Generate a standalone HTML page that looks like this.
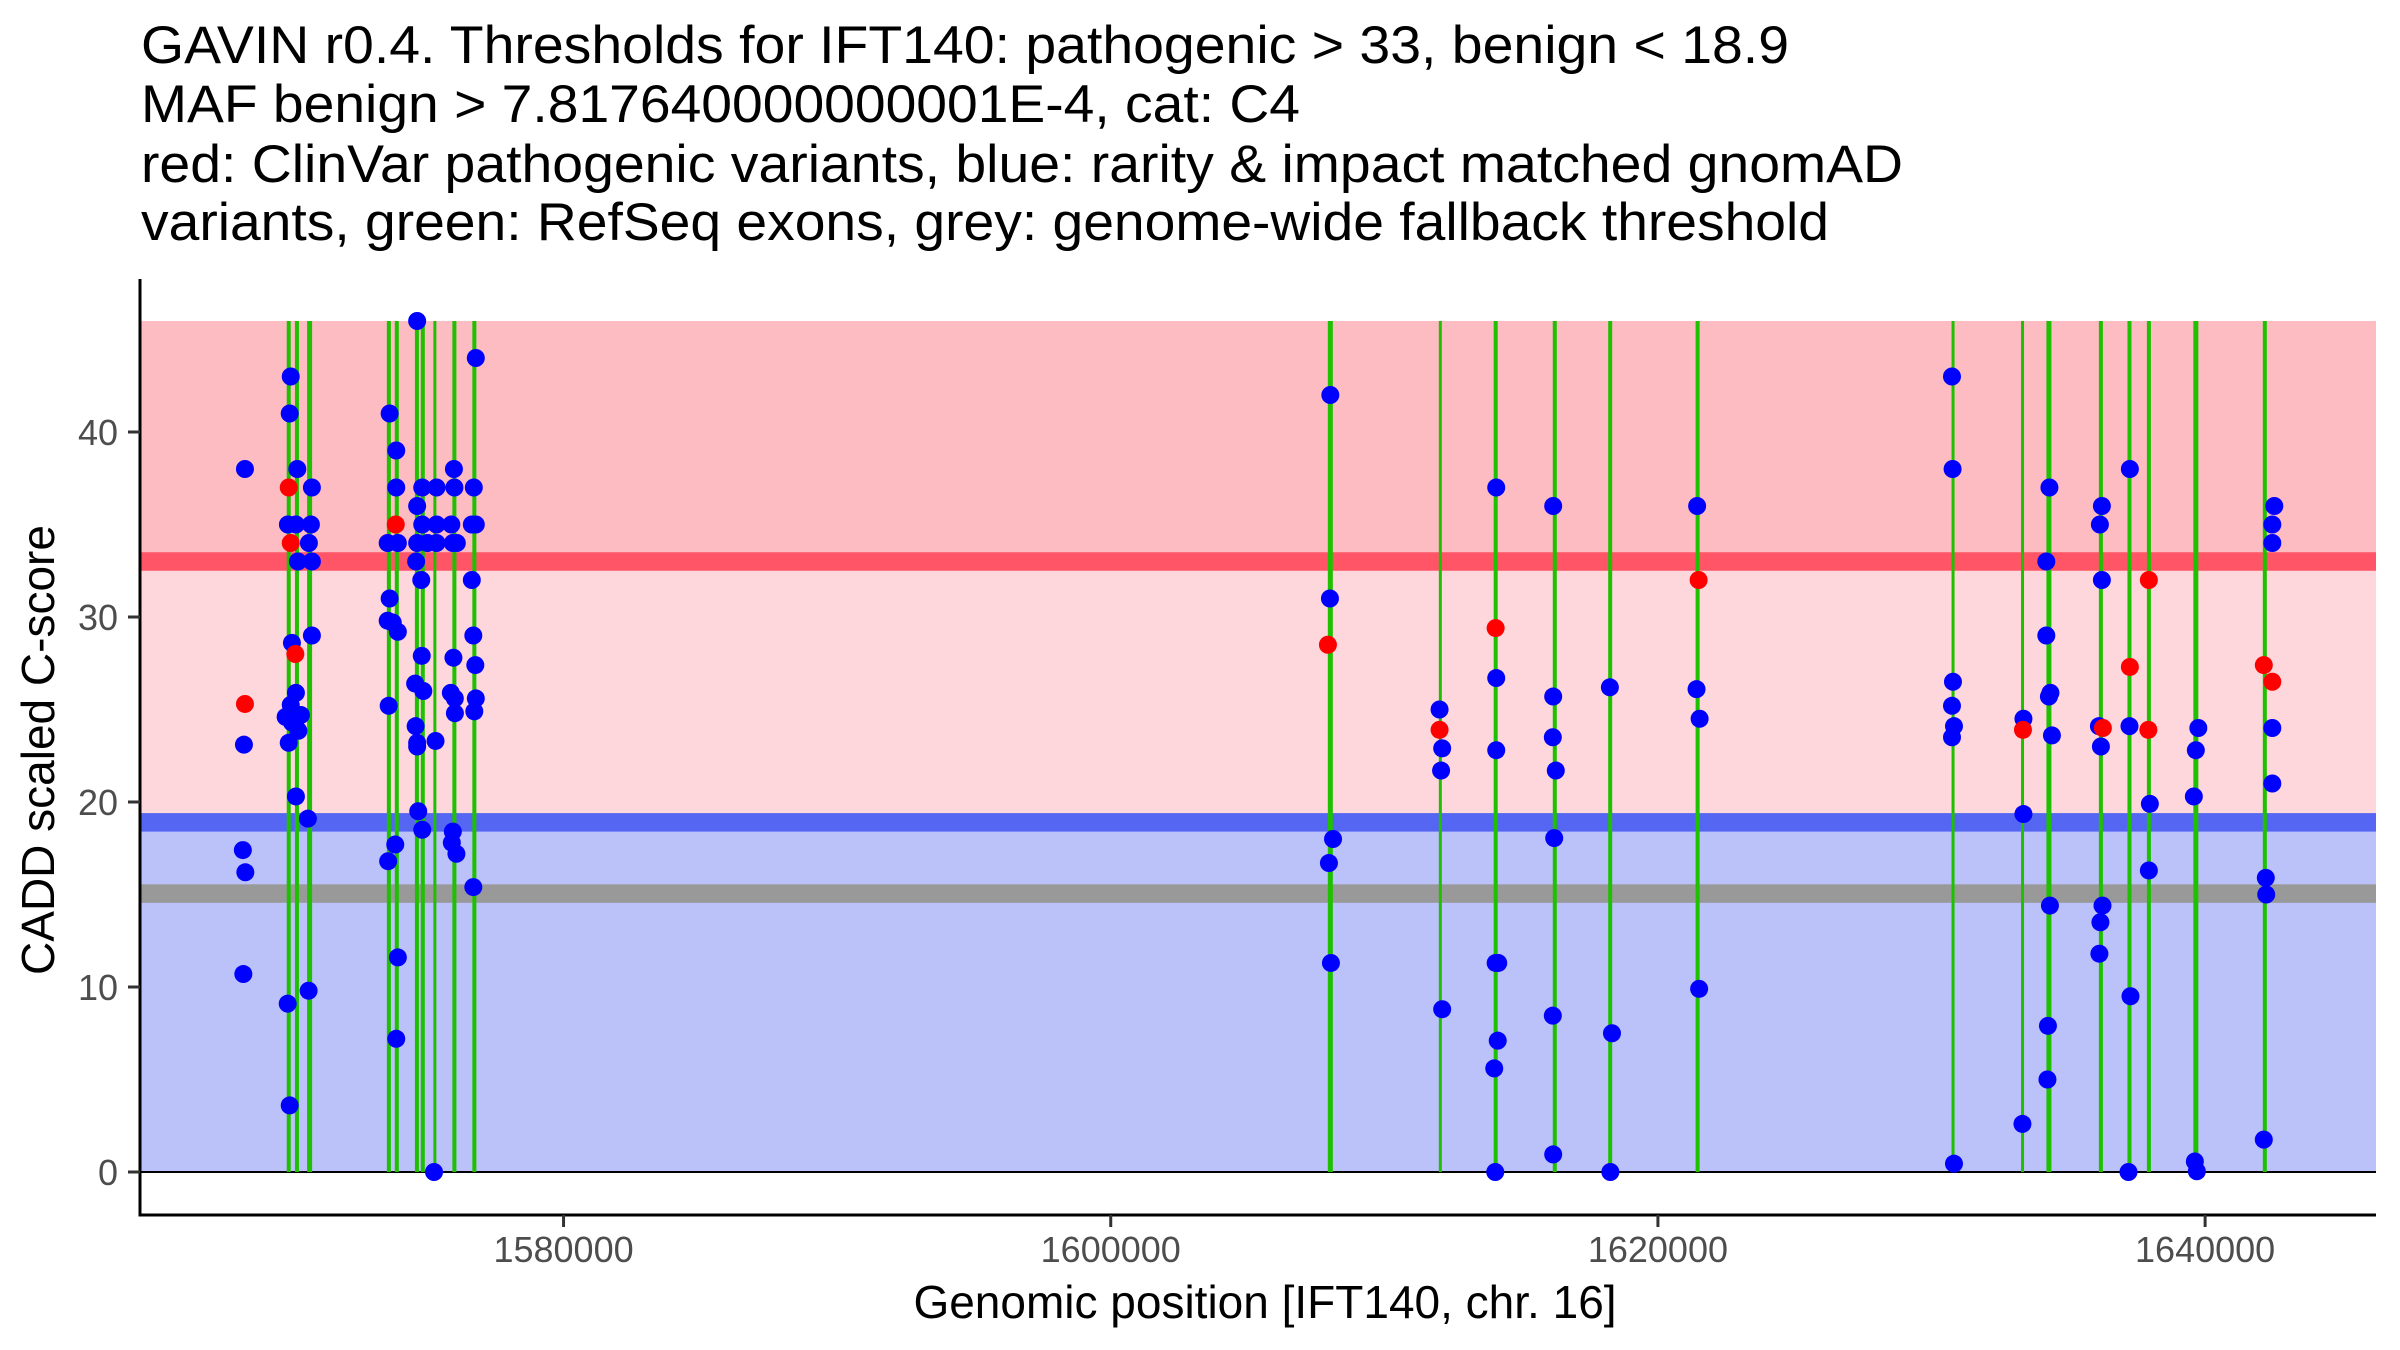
<!DOCTYPE html>
<html><head><meta charset="utf-8"><style>
html,body{margin:0;padding:0;background:#fff;}
svg{display:block;font-family:"Liberation Sans",Arial,sans-serif;}
</style></head><body>
<svg id="chart" width="2400" height="1350" viewBox="0 0 2400 1350" xmlns="http://www.w3.org/2000/svg">
<g font-size="53" fill="#000">
<text x="141" y="63" textLength="1648" lengthAdjust="spacingAndGlyphs">GAVIN r0.4. Thresholds for IFT140: pathogenic &gt; 33, benign &lt; 18.9</text>
<text x="141" y="122" textLength="1159" lengthAdjust="spacingAndGlyphs">MAF benign &gt; 7.817640000000001E-4, cat: C4</text>
<text x="141" y="182" textLength="1762" lengthAdjust="spacingAndGlyphs">red: ClinVar pathogenic variants, blue: rarity &amp; impact matched gnomAD</text>
<text x="141" y="240" textLength="1688" lengthAdjust="spacingAndGlyphs">variants, green: RefSeq exons, grey: genome-wide fallback threshold</text>
</g>
<g id="bands"></g>
<g id="exons"></g>
<g id="pts"></g>
<g id="axes"></g>
<text x="1265" y="1318" font-size="46" text-anchor="middle" fill="#000">Genomic position [IFT140, chr. 16]</text>
<text transform="translate(54,750) rotate(-90)" font-size="46" text-anchor="middle" fill="#000">CADD scaled C-score</text>
</svg>
<script>
const xTicks = [1580000, 1600000, 1620000, 1640000];
const yTicks = [0, 10, 20, 30, 40];
const thresholds = [33, 18.9, 15.05];
const exonStart = [1569900,1570200,1570645,1573560,1573850,1574585,1574800,1575260,1575955,1576685,1607953,1612010,1614015,1616175,1618200,1621395,1630750,1633290,1634218,1636135,1637180,1637890,1639588,1642127];
const exonEnd   = [1570010,1570310,1570791,1573670,1573960,1574695,1574910,1575330,1576065,1576795,1608099,1612080,1614125,1616285,1618310,1621505,1630820,1633360,1634364,1636245,1637290,1638000,1639734,1642237];
const bluePos = [1568355,1570028,1569991,1569925,1570218,1570269,1570802,1570766,1570693,1570291,1570802,1570802,1570072,1568318,1570218,1570028,1569841,1570400,1570309,1569955,1570072,1570218,1570656,1568278,1568369,1568296,1570682,1569918,1569991,
1574649,1573644,1573885,1573885,1573571,1573944,1573644,1573571,1573757,1573944,1573608,1573849,1573589,1573944,1573885,1574649,1574835,1575357,1574835,1575357,1574649,1575025,1575357,1574612,1574799,1574817,1574576,1574875,1574594,1574649,1574649,1575321,1574689,1574835,1575266,
1575993,1576011,1575898,1575953,1576099,1575975,1575880,1576026,1576029,1575953,1575916,1576084,1576793,1576720,1576647,1576793,1576647,1576702,1576775,1576793,1576738,1576702,
1608026,1608012,1608125,1607975,1608048,1612019,1612114,1612074,1612114,1614090,1614090,1614090,1614068,1614163,1614145,1614017,1614054,1616172,1616172,1616158,1616267,1616209,1616158,1616172,1618244,1618320,1618262,1621433,1621411,1621524,1621506,
1630748,1630770,1630784,1630748,1630821,1630748,1630821,1633360,1633360,1633323,1634310,1634196,1634196,1634346,1634291,1634401,1634328,1634255,1634237,1636227,1636154,1636227,1636118,1636191,1636249,1636173,1636136,1637250,1637236,1637272,1637199,1637981,1637944,1639752,1639661,1639588,1639625,1639698,1642529,1642456,1642456,1642456,1642456,1642218,1642233,1642145];
const blueScore = [38,43,41,35,35,38,37,35,34,33,33,29,28.6,23.1,25.9,25.25,24.6,24.7,23.85,23.2,24.3,20.3,19.1,17.4,16.2,10.7,9.8,9.1,3.6,
46,41,39,37,34,34,31,29.8,29.7,29.2,25.2,17.7,16.8,11.6,7.2,36,37,37,35,35,34,34,34,33,32,27.9,26.4,26.0,24.1,23.2,23.0,23.3,19.5,18.5,0,
38,37,35,34,34,27.8,25.9,25.6,24.8,18.4,17.8,17.2,44,37,35,35,32,29,27.4,25.6,24.9,15.4,
42,31,18.0,16.7,11.3,25.0,22.9,21.7,8.8,37,26.7,22.8,11.3,11.3,7.1,5.6,0,36,25.7,23.5,21.7,18.05,8.45,0.95,26.2,7.5,0,36,26.1,24.5,9.9,
43,38,26.5,25.2,24.1,23.5,0.45,24.5,19.35,2.6,37,33,29,25.9,25.7,23.6,14.4,7.9,5.0,36,35,32,24.1,23.0,14.4,13.5,11.8,38,24.1,9.5,0,19.9,16.3,24.0,22.8,20.3,0.57,0.04,36,35,34,24.0,21.0,15.9,15.0,1.75];
const redPos = [1569955,1570028,1570196,1568355,1573867,1607938,1612019,1614068,1621487,1633342,1636264,1637250,1637944,1637926,1642145,1642456];
const redScore = [37,34,28,25.3,35,28.5,23.9,29.4,32,23.9,24.0,27.3,32,23.9,27.4,26.5];

const NS = "http://www.w3.org/2000/svg";
const X0 = 140, X1 = 2376, D0 = 1564519, D1 = 1646246;
const xs = v => X0 + (v - D0) / (D1 - D0) * (X1 - X0);
const ys = v => 1172 - v * 18.5;
function mk(tag, attrs, parent) { const e = document.createElementNS(NS, tag); for (const k in attrs) e.setAttribute(k, attrs[k]); parent.appendChild(e); return e; }

const bands = document.getElementById('bands');
let r;
r = mk('rect', {x: X0, y: ys(46), width: X1 - X0, height: ys(thresholds[0]) - ys(46), fill: '#FDBCC1'}, bands);


r = mk('rect', {x: X0, y: ys(thresholds[0]), width: X1 - X0, height: ys(thresholds[1]) - ys(thresholds[0]), fill: '#FDD7DB'}, bands);


r = mk('rect', {x: X0, y: ys(thresholds[1]), width: X1 - X0, height: ys(0) - ys(thresholds[1]), fill: '#BBC1F9'}, bands);


const lineCols = ['#FF5566', '#5566F2', '#999999'];
const lineNames = ['pathogenic-threshold-line', 'benign-threshold-line', 'fallback-threshold-line'];
thresholds.forEach((t, i) => {
  const l = mk('rect', {x: X0, y: ys(t + 0.5), width: X1 - X0, height: ys(t - 0.5) - ys(t + 0.5), fill: lineCols[i]}, bands);
  
  
});
const zl = mk('line', {x1: X0, x2: X1, y1: ys(0), y2: ys(0), stroke: '#000', 'stroke-width': 2}, bands);



const ex = document.getElementById('exons');
exonStart.forEach((s, i) => {
  const w = Math.max(3, xs(exonEnd[i]) - xs(s) + 1);
  const e = mk('rect', {x: xs(s) - 0.5, y: ys(46), width: w, height: ys(0) - ys(46), fill: '#1EC000'}, ex);
  
  
});

const pts = document.getElementById('pts');
bluePos.forEach((p, i) => {
  const c = mk('circle', {cx: xs(p), cy: ys(blueScore[i]), r: 9, fill: '#0000FF'}, pts);
  
  
});
redPos.forEach((p, i) => {
  const c = mk('circle', {cx: xs(p), cy: ys(redScore[i]), r: 9, fill: '#FF0000'}, pts);
  
  
});

const ax = document.getElementById('axes');
const ya = mk('line', {x1: X0, x2: X0, y1: 279, y2: 1216.5, stroke: '#000', 'stroke-width': 3}, ax);


const xa = mk('line', {x1: X0 - 1.5, x2: X1, y1: 1215, y2: 1215, stroke: '#000', 'stroke-width': 3}, ax);


yTicks.forEach(t => {
  const tk = mk('line', {x1: 128, x2: X0, y1: ys(t), y2: ys(t), stroke: '#333', 'stroke-width': 3}, ax);
  
  
  const lb = mk('text', {x: 118, y: ys(t) + 13, 'font-size': 36, 'text-anchor': 'end', fill: '#4D4D4D'}, ax);
  lb.textContent = t;
  
  
});
xTicks.forEach(t => {
  const tk = mk('line', {x1: xs(t), x2: xs(t), y1: 1215, y2: 1227, stroke: '#333', 'stroke-width': 3}, ax);
  
  
  const lb = mk('text', {x: xs(t), y: 1262, 'font-size': 36, 'text-anchor': 'middle', fill: '#4D4D4D'}, ax);
  lb.textContent = t;
  
  
});
</script>
</body></html>
